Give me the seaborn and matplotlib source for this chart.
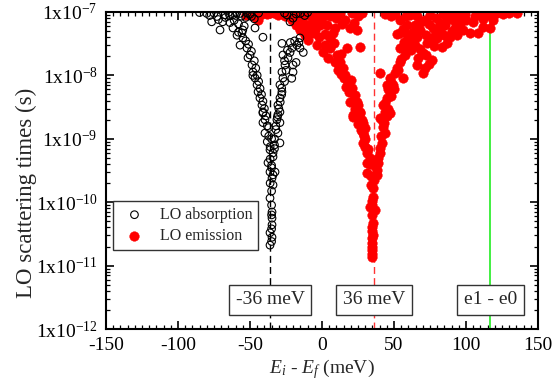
import numpy as np
import pandas as pd
import matplotlib
matplotlib.use("Agg")
import matplotlib.pyplot as plt
import matplotlib.ticker as mticker
import seaborn as sns

# ---- data ----
abs_energy = [
    -76.6, -70.8, -67.4, -63.9, -61.8, -59.0, -56.9, -55.6, -54.9, -52.1, -50.0, -51.4,
    -48.6, -47.9, -46.5, -45.1, -44.4, -43.1, -41.7, -41.0, -39.6, -46.5, -41.0,
    -80.0, -73.0, -65.0, -60.0, -57.0, -53.0, -50.0, -47.0, -44.0, -58.0, -54.0, -62.0, -69.0,
    -24.3, -20.1, -22.2, -15.0, -10.0,
    -27.8, -27.1, -25.7, -27.8, -27.1, -29.2, -27.8, -29.2, -30.6, -29.2, -31.3,
    -20.8, -17.4, -15.3, -23.6, -20.1, -15.3, -22.2, -13.0, -18.0, -20.1, -21.0,
    -41.0, -30.6, -41.0, -29.2, -39.6, -30.6, -29.2, -36.1, -34.0, -37.5, -36.1, -32.6,
    -34.7, -34.0, -36.1, -34.7, -34.7, -34.7, -36.1, -34.7, -36.1,
    -38.0, -33.0, -35.0, -36.0, -35.0, -37.0, -32.0,
    -85.0, -78.0, -75.0, -72.0, -67.0, -64.0, -61.0, -59.0, -56.0, -52.0, -49.0, -55.0,
    -58.0, -53.0, -51.0, -49.0, -47.0, -46.0, -45.0, -48.0, -44.0, -43.0, -42.0, -41.0,
    -40.0, -39.0, -38.0, -37.0, -36.0, -36.0, -35.0, -34.0, -35.0, -35.0, -35.0, -35.0, -35.0,
    -26.0, -25.0, -24.0, -26.0, -28.0, -28.0, -29.0, -30.0, -31.0, -32.0, -33.0, -33.0,
    -34.0, -19.0, -22.0, -16.0, -18.0, -26.0, -12.0,
]
abs_time = [
    7.0e-8, 5.2e-8, 9.0e-8, 6.8e-8, 5.6e-8, 4.3e-8, 3.0e-8, 4.7e-8, 3.9e-8, 2.7e-8, 2.1e-8, 1.9e-8,
    1.46e-8, 1.13e-8, 9.1e-9, 7.1e-9, 5.5e-9, 4.4e-9, 3.4e-9, 2.65e-9, 2.0e-9, 5.6e-8, 4.0e-8,
    9.5e-8, 8.5e-8, 9.8e-8, 8.8e-8, 9.5e-8, 8.2e-8, 9.2e-8, 7.8e-8, 9.6e-8, 6.5e-8, 6.0e-8, 9.0e-8, 7.0e-8,
    9.0e-8, 8.0e-8, 7.0e-8, 9.5e-8, 9.8e-8,
    3.2e-8, 2.1e-8, 1.46e-8, 1.13e-8, 9.1e-9, 7.1e-9, 5.5e-9, 4.4e-9, 3.4e-9, 2.65e-9, 2.0e-9,
    2.7e-8, 3.0e-8, 3.9e-8, 1.9e-8, 1.13e-8, 2.7e-8, 2.3e-8, 2.3e-8, 1.6e-8, 1.46e-8, 9.0e-9,
    2.55e-9, 2.4e-9, 1.8e-9, 1.8e-9, 1.23e-9, 1.23e-9, 8.6e-10, 6.7e-10, 5.2e-10, 4.2e-10, 3.0e-10, 3.0e-10,
    2.4e-10, 1.87e-10, 1.16e-10, 7.0e-11, 5.6e-11, 4.4e-11, 3.3e-11, 2.8e-11, 2.1e-11,
    9.0e-10, 7.0e-10, 3.5e-10, 2.0e-10, 1.0e-9, 1.5e-9, 1.6e-9,
    9.8e-8, 8.8e-8, 9.6e-8, 7.6e-8, 8.2e-8, 8.7e-8, 7.4e-8, 9.8e-8, 8.6e-8, 9.6e-8, 8.5e-8, 5.2e-8,
    4.8e-8, 3.5e-8, 3.1e-8, 2.4e-8, 1.7e-8, 1.3e-8, 1.0e-8, 1.0e-8, 8.0e-9, 6.2e-9, 5.0e-9, 3.9e-9,
    3.0e-9, 2.3e-9, 1.6e-9, 1.1e-9, 7.5e-10, 4.8e-10, 3.8e-10, 2.7e-10, 1.5e-10, 9.0e-11, 6.3e-11, 3.8e-11, 2.4e-11,
    1.7e-8, 1.2e-8, 2.5e-8, 8.0e-9, 6.3e-9, 5.0e-9, 3.8e-9, 3.0e-9, 2.2e-9, 1.4e-9, 1.0e-9, 8.0e-10,
    6.0e-10, 3.5e-8, 3.3e-8, 3.3e-8, 9.3e-8, 9.6e-8, 8.8e-8,
]

emi_energy = [
    # left branch
    -1.4, 3.5, 7.6, 5.6, -3.5, 0.7, 5.6, 10.4, 12.5, 14.6, 17.4, 19.4, 24.3, 26.4, 16.0,
    18.1, 20.8, 19.4, 22.9, 25.0, 26.4, 21.5, 27.8,
    2.0, 8.0, 4.0, 9.0, 13.0, 11.0, 15.0, 13.0, 17.0, 20.0, 19.0, 22.0, 24.0, 23.0, 26.0,
    25.0, 27.0, 29.0, 30.0, 32.0, 33.0, 34.0, 34.0, 35.0, 35.0, 35.0, 35.0, 35.0, 35.0,
    # right branch
    40.3, 47.2, 45.1, 52.1, 47.2, 45.1, 42.4, 43.8, 40.3, 54.2, 57.6, 54.2, 61.1, 59.0,
    52.1, 64.6, 66.0, 56.3, 49.3,
    38.0, 39.0, 40.0, 41.0, 43.0, 45.0, 46.0, 44.0, 48.0, 46.0, 50.0, 48.0, 51.0, 53.0,
    55.0, 58.0, 60.0, 62.0, 57.0, 63.0, 66.0, 59.0, 56.0,
    # lower part
    21.5, 26.4, 47.2, 28.5, 42.4, 28.5, 43.8, 28.5, 41.7, 31.3, 40.3, 31.3, 38.9, 38.2,
    31.3, 35.4, 35.4, 33.3, 36.8, 34.7, 35.4, 35.4, 34.7, 34.7, 34.7, 34.7,
    30.0, 33.0, 36.0, 37.0, 30.0, 42.0,
    # top cluster (left)
    -46.5, -41.7, -36.1, -30.6, -25.7, -44.4, -20.8, -18.1, -15.3, -11.8, -9.7, -13.2,
    -8.3, -6.3, -16.7, -11.1, -4.9, -1.4, 5.6, 12.5, 16.0, -53.0,
    -48.0, -38.0, -33.0, -28.0, -23.0, -19.0, -14.0, -9.0, -4.0, 0.0, 3.0, 8.0, 10.0,
    -7.0, -2.0, -10.0, -12.0, -6.0, -2.0, 2.0, -17.0, -22.0, 21.0, 25.0, 28.0, 14.0, 9.0, 22.0,
    # top cluster (right)
    50.7, 54.2, 61.1, 64.6, 68.1, 71.5, 75.0, 81.9, 85.4, 88.9, 92.4, 78.5,
    71.5, 76.4, 83.3, 70.1, 75.0, 88.9, 97.9, 102.8, 108.3, 111.8, 116.7, 118.8,
    104.9, 91.0, 81.9, 95.8, 114.6, 121.5, 135.4, 62.0, 73.0, 67.0, 54.0,
    44.0, 48.0, 58.0, 66.0, 69.0, 74.0, 79.0, 84.0, 87.0, 93.0, 99.0, 100.0, 106.0, 110.0,
    112.0, 119.0, 126.0, 130.0, 72.0, 77.0, 80.0, 85.0, 87.0, 90.0, 94.0, 96.0, 68.0, 72.0,
    78.0, 74.0, 70.0,
]
emi_time = [
    6.2e-8, 6.2e-8, 4.7e-8, 3.9e-8, 3.0e-8, 2.3e-8, 2.7e-8, 2.1e-8, 1.6e-8, 1.31e-8, 2.7e-8, 5.6e-8, 5.2e-8, 2.8e-8, 1.0e-8,
    7.9e-9, 6.3e-9, 3.8e-9, 4.9e-9, 3.4e-9, 2.65e-9, 2.4e-9, 2.0e-9,
    3.0e-8, 3.3e-8, 1.9e-8, 1.6e-8, 2.2e-8, 1.2e-8, 9.0e-9, 1.05e-8, 6.5e-9, 8.5e-9, 5.5e-9, 4.2e-9, 3.8e-9, 3.0e-9, 2.2e-9,
    1.7e-9, 1.4e-9, 1.1e-9, 7.5e-10, 7.0e-10, 4.0e-10, 2.6e-10, 1.9e-10, 1.05e-10, 9.0e-11, 4.0e-11, 3.5e-11, 2.0e-11, 1.55e-11,
    1.09e-8, 9.1e-9, 7.1e-9, 1.31e-8, 5.5e-9, 4.4e-9, 3.4e-9, 2.65e-9, 2.1e-9, 1.6e-8, 2.1e-8, 2.7e-8, 3.9e-8, 6.2e-8,
    4.5e-8, 3.0e-8, 1.46e-8, 9.1e-9, 7.1e-9,
    2.7e-10, 5.0e-10, 7.2e-10, 1.1e-9, 1.8e-9, 2.3e-9, 3.0e-9, 3.7e-9, 4.8e-9, 6.0e-9, 6.0e-9, 8.0e-9, 1.1e-8, 1.2e-8,
    1.8e-8, 2.4e-8, 3.0e-8, 3.5e-8, 3.4e-8, 4.8e-8, 4.0e-8, 4.5e-8, 5.3e-8,
    2.2e-9, 2.55e-9, 2.55e-9, 1.8e-9, 1.53e-9, 1.23e-9, 1.23e-9, 8.6e-10, 8.6e-10, 6.0e-10, 6.0e-10, 4.2e-10, 4.2e-10, 3.2e-10,
    2.9e-10, 1.67e-10, 1.21e-10, 8.4e-11, 7.5e-11, 6.3e-11, 4.7e-11, 3.0e-11, 2.7e-11, 2.3e-11, 1.76e-11, 1.37e-11,
    1.0e-9, 5.0e-10, 2.2e-10, 3.7e-10, 1.5e-9, 2.0e-9,
    8.3e-8, 9.3e-8, 9.6e-8, 9.0e-8, 8.7e-8, 7.5e-8, 7.5e-8, 6.2e-8, 5.2e-8, 4.3e-8, 3.6e-8, 7.0e-8,
    5.6e-8, 8.0e-8, 9.3e-8, 9.6e-8, 5.2e-8, 9.3e-8, 8.7e-8, 9.6e-8, 7.5e-8, 9.0e-8,
    9.7e-8, 9.2e-8, 9.7e-8, 9.5e-8, 9.2e-8, 8.5e-8, 8.3e-8, 9.0e-8, 8.7e-8, 8.0e-8, 9.5e-8, 9.3e-8, 8.0e-8,
    7.0e-8, 6.8e-8, 6.0e-8, 5.3e-8, 4.6e-8, 4.0e-8, 4.5e-8, 7.2e-8, 8.2e-8, 9.5e-8, 8.8e-8, 9.6e-8, 6.5e-8, 5.5e-8, 6.6e-8,
    9.3e-8, 7.5e-8, 9.0e-8, 6.2e-8, 5.2e-8, 7.5e-8, 9.0e-8, 5.2e-8, 6.2e-8, 9.0e-8, 5.6e-8, 4.3e-8,
    1.31e-8, 1.75e-8, 2.8e-8, 2.25e-8, 3.6e-8, 4.0e-8, 5.2e-8, 4.7e-8, 4.7e-8, 5.8e-8, 5.6e-8, 7.5e-8,
    7.0e-8, 7.5e-8, 6.7e-8, 8.3e-8, 9.0e-8, 9.6e-8, 9.6e-8, 2.5e-8, 3.2e-8, 1.9e-8, 4.7e-8,
    9.4e-8, 8.6e-8, 8.6e-8, 8.8e-8, 7.0e-8, 6.5e-8, 8.0e-8, 9.3e-8, 7.8e-8, 9.6e-8, 9.2e-8, 7.5e-8, 8.8e-8, 9.7e-8,
    7.7e-8, 8.8e-8, 9.4e-8, 9.7e-8, 4.3e-8, 5.6e-8, 3.9e-8, 4.4e-8, 3.3e-8, 5.0e-8, 4.4e-8, 6.5e-8, 2.6e-8, 2.1e-8,
    2.9e-8, 1.5e-8, 1.1e-8,
]

x_ticks = [-150, -100, -50, 0, 50, 100, 150]
y_ticks = [1e-12, 1e-11, 1e-10, 1e-9, 1e-8, 1e-7]
y_tick_labels = [r"$\mathregular{1x10^{-12}}$", r"$\mathregular{1x10^{-11}}$",
                 r"$\mathregular{1x10^{-10}}$", r"$\mathregular{1x10^{-9}}$",
                 r"$\mathregular{1x10^{-8}}$", r"$\mathregular{1x10^{-7}}$"]
line_positions = [-36, 36, 117]
line_labels = ["-36 meV", "36 meV", "e1 - e0"]

df_abs = pd.DataFrame({"E": abs_energy, "t": abs_time})
df_emi = pd.DataFrame({"E": emi_energy, "t": emi_time})

# ---- style ----
sns.set_theme(style="ticks")
plt.rcParams["font.family"] = ["Liberation Serif", "DejaVu Serif"]
plt.rcParams["mathtext.fontset"] = "custom"
plt.rcParams["mathtext.rm"] = "Liberation Serif"
plt.rcParams["mathtext.it"] = "Liberation Serif:italic"
plt.rcParams["axes.unicode_minus"] = False

fig = plt.figure(figsize=(5.54, 3.92), dpi=100)
ax = fig.add_axes([0.1913, 0.1607, 0.7798, 0.8087])

# vertical reference lines
ax.axvline(line_positions[0], color="black", ls=(0, (5, 3)), lw=1.0, zorder=1)
ax.axvline(line_positions[1], color="#ff3333", ls=(0, (5, 3)), lw=1.0, zorder=1)
ax.axvline(line_positions[2], color="#33ee33", ls="-", lw=1.3, zorder=1)

sns.scatterplot(data=df_emi, x="E", y="t", ax=ax, marker="o", s=48,
                color="#ff0000", edgecolor="#ff0000", linewidth=0.3,
                label="LO emission", zorder=2)
sns.scatterplot(data=df_abs, x="E", y="t", ax=ax, marker="o", s=30,
                facecolor="none", edgecolor="black", linewidth=0.8,
                label="LO absorption", zorder=3)

ax.set_yscale("log")
ax.set_xlim(-150, 150)
ax.set_ylim(1e-12, 1e-7)
ax.set_xticks(x_ticks)
ax.set_xticklabels([str(v) for v in x_ticks])
ax.xaxis.set_minor_locator(mticker.MultipleLocator(5))
ax.yaxis.set_major_locator(mticker.FixedLocator(y_ticks))
ax.yaxis.set_major_formatter(mticker.FixedFormatter(y_tick_labels))
ax.yaxis.set_minor_locator(mticker.LogLocator(base=10, subs=np.arange(2, 10), numticks=20))
ax.yaxis.set_minor_formatter(mticker.NullFormatter())

ax.tick_params(which="both", direction="in", top=True, right=True, colors="black",
               labelsize=14, pad=6)
ax.tick_params(which="major", length=6, width=1.2)
ax.tick_params(which="minor", length=3, width=0.9)
for sp in ax.spines.values():
    sp.set_linewidth(1.5)
    sp.set_color("black")
    sp.set_visible(True)

ax.set_xlabel(r"$E_i$ - $E_f$ (meV)", fontsize=14, labelpad=2)
ax.set_ylabel("LO scattering times (s)", fontsize=16.5)
ax.yaxis.set_label_coords(-0.16, 0.43)

# text boxes at the lines
for xpos, txt in zip(line_positions, line_labels):
    ax.text(xpos, 0.092, txt, transform=ax.get_xaxis_transform(), ha="center", va="center",
            fontsize=14, zorder=5,
            bbox=dict(boxstyle="square,pad=0.35", facecolor="white", edgecolor="#333333", lw=1.0))

# legend with absorption first
handles, labels = ax.get_legend_handles_labels()
order = [labels.index("LO absorption"), labels.index("LO emission")]
leg = ax.legend([handles[i] for i in order], [labels[i] for i in order],
                loc="lower left", bbox_to_anchor=(0.016, 0.249), borderaxespad=0,
                fontsize=11.5, frameon=True, fancybox=False, edgecolor="#333333",
                framealpha=1, borderpad=0.35, labelspacing=0.35, handletextpad=0.6,
                markerscale=1.0)
leg.get_frame().set_linewidth(1.0)
leg.set_zorder(6)

fig.savefig("out.png", dpi=100)
